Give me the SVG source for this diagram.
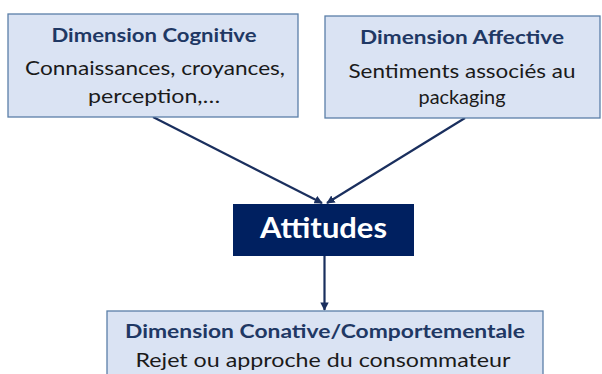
<svg xmlns="http://www.w3.org/2000/svg" width="602" height="374" viewBox="0 0 602 374">
  <defs>
    <marker id="arrow" viewBox="0 0 10 10" refX="9" refY="5" markerWidth="3.8" markerHeight="3.8" orient="auto" markerUnits="strokeWidth">
      <path d="M0,0 L10,5 L0,10 z" fill="#1a2f5e"/>
    </marker>
    <style>
      .box { fill: #dae3f3; stroke: #5b7fa8; stroke-width: 1.3; }
      .core { fill: #002060; }
      .title { font-family: Lato, "Open Sans", sans-serif; font-weight: bold; fill: #1f3864; font-size: 19px; text-anchor: middle; }
      .body { font-family: Lato, "Open Sans", sans-serif; fill: #1a1a1a; font-size: 20px; text-anchor: middle; }
      .big { font-family: Lato, "Open Sans", sans-serif; font-weight: bold; fill: #ffffff; font-size: 28px; text-anchor: middle; }
      .link { stroke: #1a2f5e; stroke-width: 2.2; fill: none; marker-end: url(#arrow); }
    </style>
  </defs>
  <rect width="602" height="374" fill="#ffffff"/>

  <g id="connectors">
    <line class="link" x1="153" y1="117" x2="322" y2="203"/>
    <line class="link" x1="465" y1="118" x2="327" y2="203"/>
    <line class="link" x1="324.5" y1="256" x2="324.5" y2="310"/>
  </g>

  <g id="cognitive">
    <rect class="box" x="8" y="14" width="290" height="103"/>
    <text class="title" x="154" y="41.5" textLength="205" lengthAdjust="spacingAndGlyphs">Dimension Cognitive</text>
    <text class="body" x="155" y="75" textLength="260" lengthAdjust="spacingAndGlyphs">Connaissances, croyances,</text>
    <text class="body" x="154" y="103" textLength="132" lengthAdjust="spacingAndGlyphs">perception,…</text>
  </g>

  <g id="affective">
    <rect class="box" x="325" y="16" width="275" height="102"/>
    <text class="title" x="462" y="44" textLength="204" lengthAdjust="spacingAndGlyphs">Dimension Affective</text>
    <text class="body" x="462" y="78" textLength="227" lengthAdjust="spacingAndGlyphs">Sentiments associés au</text>
    <text class="body" x="462" y="104" textLength="87" lengthAdjust="spacingAndGlyphs">packaging</text>
  </g>

  <g id="attitudes">
    <rect class="core" x="233" y="204" width="181" height="52"/>
    <text class="big" x="323.5" y="238" textLength="127" lengthAdjust="spacingAndGlyphs">Attitudes</text>
  </g>

  <g id="conative">
    <rect class="box" x="107" y="311" width="436" height="70"/>
    <text class="title" x="325" y="338" textLength="400" lengthAdjust="spacingAndGlyphs">Dimension Conative/Comportementale</text>
    <text class="body" x="323" y="367" textLength="375" lengthAdjust="spacingAndGlyphs">Rejet ou approche du consommateur</text>
  </g>
</svg>
